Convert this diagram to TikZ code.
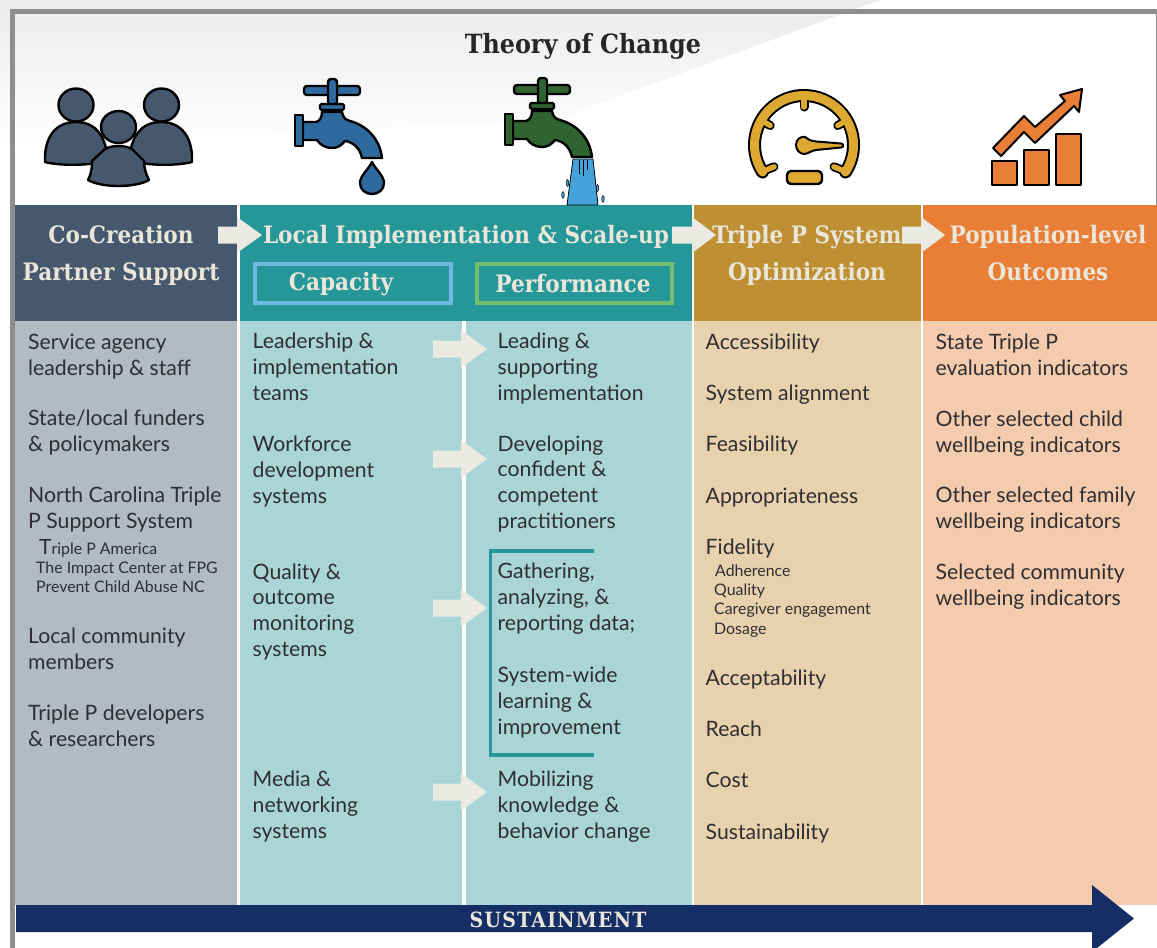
\documentclass[tikz,border=0pt]{standalone}
\usepackage{fontspec}
\setmainfont{Lato}
\newfontfamily\headfont{DejaVu Serif Condensed}
\usetikzlibrary{calc}
\definecolor{bandgray}{HTML}{EAEBED}
\definecolor{framegray}{HTML}{8E8E8E}
\definecolor{cola}{HTML}{46586D}\definecolor{colab}{HTML}{B2BAC2}
\definecolor{colb}{HTML}{259799}\definecolor{colbb}{HTML}{A9D5D6}
\definecolor{colc}{HTML}{BE8F33}\definecolor{colcb}{HTML}{E8D2AD}
\definecolor{cold}{HTML}{E97E37}\definecolor{coldb}{HTML}{F5CBAE}
\definecolor{navy}{HTML}{152E66}
\definecolor{chev}{HTML}{EAEAE3}
\definecolor{headtxt}{HTML}{EAE6DA}
\definecolor{bodytx}{HTML}{2E2E33}
\definecolor{capblue}{HTML}{6FB9E0}
\definecolor{perfgreen}{HTML}{72BE6F}
\definecolor{tapblue}{HTML}{2F6A9F}
\definecolor{tapgreen}{HTML}{2F6431}
\definecolor{water}{HTML}{45A1DA}
\definecolor{gaugey}{HTML}{DDA931}
\definecolor{peoplec}{HTML}{46586D}
\tikzset{
  bodytxt/.style={anchor=base west,inner sep=0pt,align=left,text=bodytx,font=\fontsize{21.2}{25.6}\selectfont},
  subtxt/.style={anchor=base west,inner sep=0pt,text=bodytx,font=\fontsize{15.9}{19}\selectfont},
  headtx/.style={anchor=base,inner sep=0pt,text=headtxt,font=\headfont\bfseries\fontsize{24}{28}\selectfont},
  icon/.style={draw=black,line width=2.4pt,line join=round},
}
\newcommand{\tap}[1]{%
  \path[icon,fill=#1,rounded corners=3pt] (304,86) rectangle (360,95);
  \path[icon,fill=#1,rounded corners=3pt] (328,79) rectangle (337,105);
  \fill[#1] (329.5,87.5) rectangle (335.5,93.5);
  \path[icon,fill=#1] (303,122) -- (316,122) .. controls (320,121) and (322,117) .. (322,112)
     -- (342,112) .. controls (343,117) and (345,120) .. (350,121)
     .. controls (368,126) and (380,140) .. (382,158) -- (362,158)
     .. controls (360,148) and (353,142) .. (345,141)
     .. controls (341,146) and (337,148) .. (332,148)
     .. controls (326,148) and (320,145) .. (317,140) -- (303,140) -- cycle;
  \path[icon,fill=#1,rounded corners=1.5pt] (320,104) rectangle (344,110);
  \path[icon,fill=#1] (295,115) rectangle (303,146);
}
\newcommand{\blockarrow}[6]{% tailx basex tipx cy tailhalf headhalf
  \fill[chev] (#1,#4-#5) -- (#2,#4-#5) -- (#2,#4-#6) -- (#3,#4) -- (#2,#4+#6) -- (#2,#4+#5) -- (#1,#4+#5) -- cycle;
}
\begin{document}
\begin{tikzpicture}[x=1pt,y=-1pt]
\clip (0,0) rectangle (1157,948);
\fill[white] (0,0) rectangle (1157,948);
% background wedge
\shade[top color=bandgray,bottom color=white] (0,0) -- (880,0) -- (560,118) -- (0,150) -- cycle;
% frame
\fill[framegray] (10,9) rectangle (1157,14);
\fill[framegray] (10,9) rectangle (15,948);
\fill[framegray] (1156,14) rectangle (1157,205);
% columns
\fill[cola] (15,205) rectangle (237,321);
\fill[colab] (15,321) rectangle (237,905);
\fill[colb] (240,205) rectangle (692,321);
\fill[colbb] (240,321) rectangle (462,905);
\fill[colbb] (466,321) rectangle (692,905);
\fill[colc] (694,205) rectangle (921,321);
\fill[colcb] (694,321) rectangle (921,905);
\fill[cold] (923,205) rectangle (1157,321);
\fill[coldb] (923,321) rectangle (1157,905);
% people
\path[icon,fill=peoplec] (45,162) .. controls (44,138) and (55,122) .. (76,122) .. controls (97,122) and (106,138) .. (108,160) .. controls (92,166) and (60,166) .. (45,162) -- cycle;
\path[icon,fill=peoplec] (129,160) .. controls (131,138) and (140,122) .. (161,122) .. controls (182,122) and (193,138) .. (192,162) .. controls (177,166) and (145,166) .. (129,160) -- cycle;
\path[icon,fill=peoplec] (88,180) .. controls (92,172) and (92,166) .. (92,161) -- (105,149) .. controls (112,145) and (125,145) .. (132,149) -- (144,161) .. controls (144,166) and (145,172) .. (149,180) .. controls (135,188) and (102,188) .. (88,180) -- cycle;
\path[icon,fill=peoplec] (76,105) ellipse [x radius=17.5,y radius=16.5];
\path[icon,fill=peoplec] (161.5,105) ellipse [x radius=17.5,y radius=16.5];
\path[icon,fill=peoplec] (118.5,127) ellipse [x radius=17.5,y radius=16];
% blue tap and drop
\tap{tapblue}
\path[icon,fill=tapblue] (372,162) .. controls (368,170) and (360,176) .. (360,183) .. controls (360,190) and (366,194) .. (372,194) .. controls (378,194) and (384,190) .. (384,183) .. controls (384,176) and (376,170) .. (372,162) -- cycle;
% water
\path[draw=black,line width=.8pt,fill=water] (573,159) -- (593,159) -- (598,205) -- (567,205) -- cycle;
\draw[black,line width=1pt] (579,160) -- (579,174) (583,160) -- (583,176) (587,160) -- (587,170);
\path[draw=black,line width=.5pt,fill=water] (567.5,183) ellipse [x radius=1.3,y radius=3.4];
\path[draw=black,line width=.5pt,fill=water] (563,195) ellipse [x radius=1.3,y radius=3.4];
\path[draw=black,line width=.5pt,fill=water] (597.5,188) ellipse [x radius=1.3,y radius=3.4];
\path[draw=black,line width=.5pt,fill=water] (603,199) ellipse [x radius=1.3,y radius=3.4];
% green tap
\begin{scope}[shift={(210,-1)}]
\tap{tapgreen}
\end{scope}
% gauge
\begin{scope}[shift={(804,145)},y=1pt]
\foreach \col/\w/\t in {black/13/9,gaugey/9/5.4}{
  \draw[\col,line width=\w pt,line cap=round] (213:49.5) arc (213:-33:49.5);
  \draw[\col,line width=\t pt,line cap=round] (90:46) -- (90:38);
  \draw[\col,line width=\t pt,line cap=round] (150:46) -- (150:39);
  \draw[\col,line width=\t pt,line cap=round] (30:46) -- (30:39);
  \draw[\col,line width=\t pt,line cap=round] (213:47) -- (216:37);
  \draw[\col,line width=\t pt,line cap=round] (-33:47) -- (-36:37);
}
\path[icon,fill=gaugey,line width=2pt] (-8,0) .. controls (-8,6) and (-3,9) .. (1,8) .. controls (4,6) and (6,4) .. (12,3.5) -- (37,1.5) .. controls (40,1) and (40,-2) .. (37,-2.5) -- (12,-5) .. controls (6,-6) and (4,-9) .. (0,-9) .. controls (-4,-9) and (-8,-5) .. (-8,0) -- cycle;
\end{scope}
\path[icon,fill=gaugey,rounded corners=4pt] (787,171) rectangle (822,184);
% chart
\path[icon,fill=cold] (992,161) rectangle (1017,185);
\path[icon,fill=cold] (1024,150) rectangle (1049,185);
\path[icon,fill=cold] (1056,134) rectangle (1081,185);
\path[icon,fill=cold,line width=2pt] (993,148) -- (1001,156) -- (1024,132) -- (1035,143) -- (1074,106) -- (1079,112) -- (1082,89) -- (1060,95) -- (1065,101) -- (1035,127) -- (1024,116) -- cycle;
% title
\node[anchor=base,inner sep=0pt,text=black!85,font=\headfont\bfseries\fontsize{26.5}{30}\selectfont] (title) at (583,53) {Theory of Change};
% headers
\node[headtx] (h1a) at (121,243) {Co-Creation};
\node[headtx] (h1b) at (121,280) {Partner Support};
\node[headtx] (h2) at (466,243) {Local Implementation \& Scale-up};
\node[headtx] (h3a) at (807,243) {Triple P System};
\node[headtx] (h3b) at (807,280) {Optimization};
\node[headtx] (h4a) at (1048,243) {Population-level};
\node[headtx] (h4b) at (1048,280) {Outcomes};
\path[draw=capblue,line width=3.5pt] (255,264) rectangle (451,303);
\path[draw=perfgreen,line width=3.5pt] (477,264) rectangle (672,303);
\node[headtx] (cap) at (341,290) {Capacity};
\node[headtx] (perf) at (573,292) {Performance};
% header arrows
\blockarrow{218}{237}{262}{235}{8.5}{18}
\blockarrow{672}{692}{716}{235}{8.5}{18}
\blockarrow{902}{921}{945}{235}{8.5}{18}
% body arrows
\blockarrow{433}{461}{487}{349}{8.5}{19}
\blockarrow{433}{461}{487}{459}{8.5}{19}
\blockarrow{433}{461}{487}{608}{8.5}{19}
\blockarrow{433}{461}{487}{792}{8.5}{19}
% bracket
\draw[colb,line width=3.5pt] (594,551) -- (490.5,551) -- (490.5,755) -- (594,755);
% column 1
\node[bodytxt] (a1) at (28,375) {Service agency\\leadership \& staff};
\node[bodytxt] (a2) at (28,451) {State/local funders\\\& policymakers};
\node[bodytxt] (a3) at (28,528) {North Carolina Triple\\P Support System};
\node[subtxt] (a3a) at (39,554) {{\fontsize{21}{25}\selectfont T}riple P America};
\node[subtxt] (a3b) at (36,573) {The Impact Center at FPG};
\node[subtxt] (a3c) at (36,592) {Prevent Child Abuse NC};
\node[bodytxt] (a4) at (28,669) {Local community\\members};
\node[bodytxt] (a5) at (28,746) {Triple P developers\\\& researchers};
% column 2
\node[bodytxt] (b1) at (252.5,400) {Leadership \&\\implementation\\teams};
\node[bodytxt] (b2) at (252.5,503) {Workforce\\development\\systems};
\node[bodytxt] (b3) at (252.5,656) {Quality \&\\outcome\\monitoring\\systems};
\node[bodytxt] (b4) at (252.5,838) {Media \&\\networking\\systems};
% column 3
\node[bodytxt] (c1) at (497.5,400) {Leading \&\\supporting\\implementation};
\node[bodytxt] (c2) at (497.5,528) {Developing\\confident \&\\competent\\practitioners};
\node[bodytxt] (c3) at (497.5,630) {Gathering,\\analyzing, \&\\reporting data;};
\node[bodytxt] (c4) at (497.5,734) {System-wide\\learning \&\\improvement};
\node[bodytxt] (c5) at (497.5,838) {Mobilizing\\knowledge \&\\behavior change};
% column 4
\node[bodytxt] (d1) at (705.5,349) {Accessibility};
\node[bodytxt] (d2) at (705.5,400) {System alignment};
\node[bodytxt] (d3) at (705.5,451) {Feasibility};
\node[bodytxt] (d4) at (705.5,503) {Appropriateness};
\node[bodytxt] (d5) at (705.5,554) {Fidelity};
\node[subtxt] (d5a) at (715,576) {Adherence};
\node[subtxt] (d5b) at (714,595) {Quality};
\node[subtxt] (d5c) at (714,614) {Caregiver engagement};
\node[subtxt] (d5d) at (714,634) {Dosage};
\node[bodytxt] (d6) at (705.5,685) {Acceptability};
\node[bodytxt] (d7) at (705.5,736) {Reach};
\node[bodytxt] (d8) at (705.5,787) {Cost};
\node[bodytxt] (d9) at (705.5,839) {Sustainability};
% column 5
\node[bodytxt] (e1) at (935.5,375) {State Triple P\\evaluation indicators};
\node[bodytxt] (e2) at (935.5,452) {Other selected child\\wellbeing indicators};
\node[bodytxt] (e3) at (935.5,528) {Other selected family\\wellbeing indicators};
\node[bodytxt] (e4) at (935.5,605) {Selected community\\wellbeing indicators};
% sustainment
\fill[navy] (16,905) -- (1092,905) -- (1092,885) -- (1134,918.5) -- (1092,952) -- (1092,932) -- (16,932) -- cycle;
\node[anchor=base,inner sep=0pt,text=headtxt,font=\headfont\bfseries\fontsize{21}{24}\selectfont\addfontfeature{LetterSpace=6}] (sus) at (558,927) {SUSTAINMENT};
\end{tikzpicture}
\end{document}
